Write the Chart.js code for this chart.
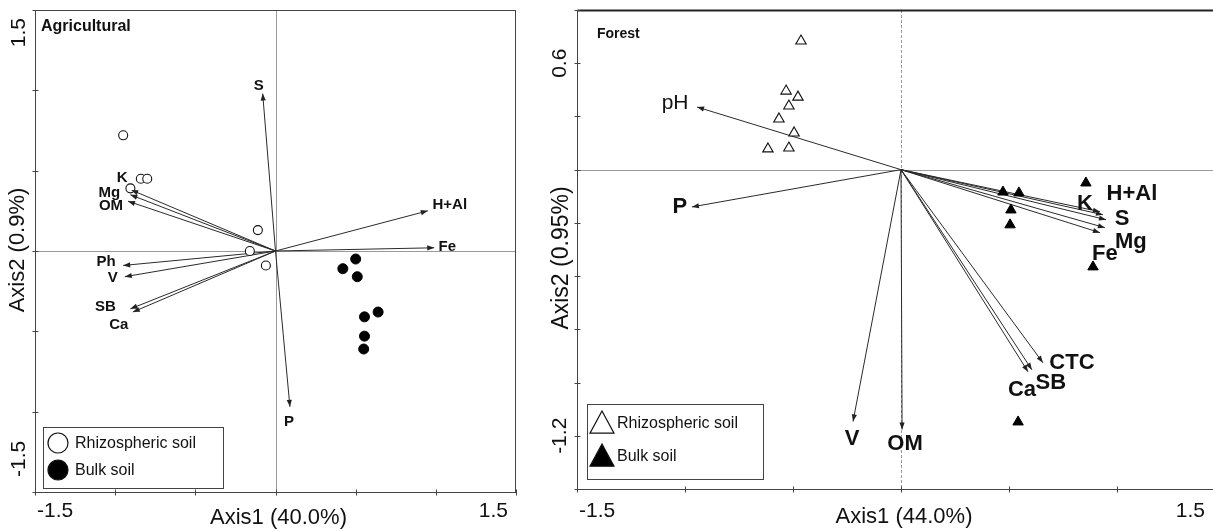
<!DOCTYPE html>
<html><head><meta charset="utf-8">
<script src="https://cdn.jsdelivr.net/npm/chart.js@4"></script>
<style>
html,body{margin:0;padding:0;background:#fff;overflow:hidden;width:1213px;height:531px;}
#wrap{position:relative;width:1213px;height:531px;overflow:hidden;background:#fff;}
canvas{position:absolute;top:0;}
#c1{left:0;} #c2{left:540px;}
</style></head><body><div id="wrap"><canvas id="c1" width="545" height="531"></canvas><canvas id="c2" width="685" height="531"></canvas></div>
<script>
// ---------- Agricultural panel data ----------
const agriVars  = ['S','K','Mg','OM','Ph','V','SB','Ca','P','H+Al','Fe'];
const agriVarX  = [-0.08,-0.90,-0.905,-0.92,-0.95,-0.94,-0.905,-0.89,0.09,0.95,0.99];
const agriVarY  = [0.98,0.38,0.35,0.31,-0.09,-0.16,-0.36,-0.38,-0.97,0.25,0.02];
const agriRhizoX = [-0.95,-0.84,-0.80,-0.905,-0.11,-0.16,-0.06];
const agriRhizoY = [0.72,0.45,0.45,0.39,0.13,0.00,-0.09];
const agriBulkX  = [0.50,0.42,0.51,0.64,0.555,0.555,0.55];
const agriBulkY  = [-0.05,-0.11,-0.16,-0.38,-0.41,-0.53,-0.61];
const agriXTicks = [-1.5,-1,-0.5,0,0.5,1,1.5];
const agriYTicks = [-1.5,-1,-0.5,0,0.5,1,1.5];
const agriXTickLabels = ['-1.5','1.5'];
const agriYTickLabels = ['1.5','-1.5'];
const agriXTitle = 'Axis1 (40.0%)';
const agriYTitle = 'Axis2 (0.9%)';
const agriPanel = 'Agricultural';
const legendNames = ['Rhizospheric soil','Bulk soil'];

// ---------- Forest panel data ----------
const forVars  = ['pH','P','V','OM','K','H+Al','S','Mg','Fe','CTC','SB','Ca'];
const forVarX  = [-0.944,-0.968,-0.222,0.005,0.921,0.935,0.949,0.944,0.921,0.657,0.606,0.588];
const forVarY  = [0.353,-0.21,-1.419,-1.464,-0.237,-0.254,-0.282,-0.327,-0.355,-1.088,-1.128,-1.139];
const forRhizoX = [-0.463,-0.532,-0.477,-0.519,-0.565,-0.495,-0.616,-0.519];
const forRhizoY = [0.725,0.443,0.409,0.359,0.286,0.207,0.117,0.122];
const forBulkX  = [0.472,0.546,0.509,0.505,0.856,0.889,0.542];
const forBulkY  = [-0.126,-0.131,-0.227,-0.311,-0.075,-0.548,-1.422];
const forXTicks = [-1.5,-1,-0.5,0,0.5,1,1.5];
const forYTicks = [-1.8,-1.5,-1.2,-0.9,-0.6,-0.3,0,0.3,0.6,0.9];
const forXTickLabels = ['-1.5','1.5'];
const forYTickLabels = ['0.6','-1.2'];
const forXTitle = 'Axis1 (44.0%)';
const forYTitle = 'Axis2 (0.95%)';
const forPanel = 'Forest';

// ---------- styles (positions / offsets, not data) ----------
const FONT = '"Liberation Sans", Arial, sans-serif';
const agriStyle = {
  pad:{left:35,right:29,top:10,bottom:39},
  xRange:[-1.5,1.5], yRange:[-1.5,1.5],
  shape:'circle', r1:4.5, r2:5,
  varFont:'bold 15px '+FONT,
  varOffset:{'S':[-4,-8],'K':[-9,-12],'Mg':[-21,-2],'OM':[-17,5],'Ph':[-17,-4],'V':[-12,1],
             'SB':[-25,-2],'Ca':[-14,13],'P':[-1,15],'H+Al':[22,-6],'Fe':[13,-1]},
  xLabelAt:[-1.5,1.5], xLabelInset:[2,-8], xLabelY:511,
  yLabelAt:[1.5,-1.5], yLabelPos:[18,477], yLabelX:19,
  titleFont:'22px '+FONT, tickFont:'21px '+FONT,
  xTitleY:518, yTitleX:18, yTitleY:250,
  panelFont:'bold 16px '+FONT, panelPos:[41,27],
  box:true, topBorder:1, vDash:[],
  legend:{x:43,y:427,w:180,h:61, sym:[58,443,470], tx:75, r:10, font:'16px '+FONT}
};
const forStyle = {
  pad:{left:37,right:0,top:10,bottom:42},
  xRange:[-1.5,1.5], yRange:[-1.8,0.9],
  shape:'triangle', r1:6, r2:6,
  varFont:'bold 22px '+FONT,
  varOffset:{'pH':[-22,-4],'P':[-12,0],'V':[-1,18],'OM':[3,15],'K':[-15,-8],'H+Al':[29,-21],
             'S':[16,-1],'Mg':[26,14],'Fe':[5,21],'CTC':[29,0],'SB':[19,13],'Ca':[-6,18]},
  varFontOverride:{'pH':'21px '+FONT},
  xLabelAt:[-1.5,1.5], xLabelInset:[2,-20], xLabelY:511,
  yLabelAt:[0.6,-1.5], yLabelPos:null, yLabelX:20,
  titleFont:'22px '+FONT, tickFont:'21px '+FONT,
  xTitleY:517, yTitleX:22, yTitleY:258, yTitleFont:'23px '+FONT,
  panelFont:'bold 14px '+FONT, panelPos:[57,34],
  box:false, topBorder:2, vDash:[3,2],
  legend:{x:47,y:404,w:176,h:75, sym:[62,423,456], tx:77, r:12, font:'16px '+FONT}
};

function drawSymbol(ctx, shape, filled, x, y, r){
  ctx.save();
  ctx.beginPath();
  if(shape==='circle'){ ctx.arc(x,y,r,0,Math.PI*2); }
  else { ctx.moveTo(x, y-r); ctx.lineTo(x+r*1.0, y+r*0.85); ctx.lineTo(x-r*1.0, y+r*0.85); ctx.closePath(); }
  ctx.fillStyle = filled ? '#000' : '#fff';
  ctx.fill();
  ctx.lineWidth = 1.2; ctx.strokeStyle = '#111'; ctx.stroke();
  ctx.restore();
}

function makeDecor(st, vars, xTicks, yTicks, xTickLabels, yTickLabels, xTitle, yTitle, panel){
  return {
    id:'decor',
    beforeDatasetsDraw(chart){
      const {ctx, chartArea:a, scales:{x,y}} = chart;
      ctx.save();
      ctx.strokeStyle = '#9a9a9a'; ctx.lineWidth = 1;
      const y0 = Math.round(y.getPixelForValue(0))+0.5, x0 = Math.round(x.getPixelForValue(0))+0.5;
      ctx.beginPath(); ctx.moveTo(a.left,y0); ctx.lineTo(a.right,y0); ctx.stroke();
      ctx.setLineDash(st.vDash);
      ctx.beginPath(); ctx.moveTo(x0,a.top); ctx.lineTo(x0,a.bottom); ctx.stroke();
      ctx.restore();
    },
    afterDatasetsDraw(chart){
      const {ctx, chartArea:a, scales:{x,y}} = chart;
      ctx.save();
      // arrowheads and variable labels
      const ox = x.getPixelForValue(0), oy = y.getPixelForValue(0);
      chart.data.datasets.forEach(ds=>{
        if(!ds.isArrow) return;
        const p = ds.data[1];
        const tx = x.getPixelForValue(p.x), ty = y.getPixelForValue(p.y);
        const ang = Math.atan2(ty-oy, tx-ox);
        const L = 7, W = 2.6;
        ctx.fillStyle = '#222';
        ctx.beginPath();
        ctx.moveTo(tx,ty);
        ctx.lineTo(tx - L*Math.cos(ang) + W*Math.sin(ang), ty - L*Math.sin(ang) - W*Math.cos(ang));
        ctx.lineTo(tx - L*Math.cos(ang) - W*Math.sin(ang), ty - L*Math.sin(ang) + W*Math.cos(ang));
        ctx.closePath(); ctx.fill();
        const off = st.varOffset[ds.label] || [0,0];
        ctx.font = (st.varFontOverride && st.varFontOverride[ds.label]) || st.varFont;
        ctx.fillStyle = '#111'; ctx.textAlign='center'; ctx.textBaseline='middle';
        ctx.fillText(ds.label, tx+off[0], ty+off[1]);
      });
      // frame
      ctx.strokeStyle = '#444'; ctx.lineWidth = 1;
      const L = Math.round(a.left)+0.5, B = Math.round(a.bottom)+0.5, T = Math.round(a.top)+0.5, R = Math.round(a.right)-0.5;
      ctx.beginPath(); ctx.moveTo(L,T); ctx.lineTo(L,B); ctx.lineTo(a.right,B); ctx.stroke();
      if(st.box){ ctx.beginPath(); ctx.moveTo(R,B); ctx.lineTo(R,T); ctx.stroke(); }
      ctx.lineWidth = st.topBorder; ctx.strokeStyle = st.topBorder>1 ? '#222' : '#444';
      ctx.beginPath(); ctx.moveTo(L,T); ctx.lineTo(a.right,T); ctx.stroke();
      // tick marks
      ctx.lineWidth = 1; ctx.strokeStyle = '#444';
      xTicks.forEach(v=>{ const px = Math.round(x.getPixelForValue(v))+0.5; ctx.beginPath(); ctx.moveTo(px,B-3); ctx.lineTo(px,B+3); ctx.stroke(); });
      yTicks.forEach(v=>{ const py = Math.round(y.getPixelForValue(v))+0.5; ctx.beginPath(); ctx.moveTo(L-3,py); ctx.lineTo(L+3,py); ctx.stroke(); });
      // tick labels
      ctx.fillStyle = '#111'; ctx.font = st.tickFont; ctx.textBaseline = 'middle';
      xTickLabels.forEach((t,i)=>{
        const px = x.getPixelForValue(st.xLabelAt[i]) + st.xLabelInset[i];
        ctx.textAlign = i===0 ? 'left' : 'right';
        ctx.fillText(t, px, st.xLabelY);
      });
      yTickLabels.forEach((t,i)=>{
        ctx.save();
        let py, align;
        if(st.yLabelPos){ py = st.yLabelPos[i]; align = i===0 ? 'right' : 'left'; }
        else { py = y.getPixelForValue(st.yLabelAt[i]); align = 'center'; }
        ctx.translate(st.yLabelX, py); ctx.rotate(-Math.PI/2);
        ctx.textAlign = align; ctx.fillText(t, 0, 0);
        ctx.restore();
      });
      // axis titles
      ctx.font = st.titleFont; ctx.textAlign='center';
      ctx.fillText(xTitle, x.getPixelForValue(0)+3, st.xTitleY);
      ctx.save(); ctx.font = st.yTitleFont || st.titleFont;
      ctx.translate(st.yTitleX, st.yTitleY); ctx.rotate(-Math.PI/2); ctx.fillText(yTitle,0,0); ctx.restore();
      // panel title
      ctx.font = st.panelFont; ctx.textAlign='left';
      ctx.fillText(panel, st.panelPos[0], st.panelPos[1]);
      // legend
      const lg = st.legend;
      ctx.fillStyle='#fff'; ctx.fillRect(lg.x,lg.y,lg.w,lg.h);
      ctx.strokeStyle='#444'; ctx.lineWidth=1; ctx.strokeRect(lg.x+0.5,lg.y+0.5,lg.w,lg.h);
      drawSymbol(ctx, st.shape, false, lg.sym[0], lg.sym[1], lg.r);
      drawSymbol(ctx, st.shape, true, lg.sym[0], lg.sym[2], lg.r);
      ctx.fillStyle='#111'; ctx.font = lg.font; ctx.textAlign='left'; ctx.textBaseline='middle';
      ctx.fillText(legendNames[0], lg.tx, lg.sym[1]+1);
      ctx.fillText(legendNames[1], lg.tx, lg.sym[2]+1);
      ctx.restore();
    }
  };
}

function biplot(id, st, vars, vx, vy, rx, ry, bx, by, xTicks, yTicks, xTL, yTL, xTitle, yTitle, panel){
  const datasets = vars.map((name,i)=>({
    type:'line', label:name, isArrow:true, order:2,
    data:[{x:0,y:0},{x:vx[i],y:vy[i]}],
    borderColor:'#2a2a2a', borderWidth:1, pointRadius:0, fill:false, tension:0
  }));
  datasets.push({type:'scatter', label:legendNames[0], order:1,
    data: rx.map((v,i)=>({x:v,y:ry[i]})), pointStyle:st.shape, pointRadius:st.r1,
    backgroundColor:'#fff', borderColor:'#111', borderWidth:1.1});
  datasets.push({type:'scatter', label:legendNames[1], order:1,
    data: bx.map((v,i)=>({x:v,y:by[i]})), pointStyle:st.shape, pointRadius:st.r2,
    backgroundColor:'#000', borderColor:'#000', borderWidth:1});
  return new Chart(document.getElementById(id), {
    type:'scatter',
    data:{datasets},
    options:{
      responsive:false, animation:false, events:[],
      layout:{padding:st.pad, autoPadding:false},
      plugins:{legend:{display:false}, tooltip:{enabled:false}},
      scales:{
        x:{type:'linear', min:st.xRange[0], max:st.xRange[1], display:false},
        y:{type:'linear', min:st.yRange[0], max:st.yRange[1], display:false}
      }
    },
    plugins:[makeDecor(st, vars, xTicks, yTicks, xTL, yTL, xTitle, yTitle, panel)]
  });
}

biplot('c1', agriStyle, agriVars, agriVarX, agriVarY, agriRhizoX, agriRhizoY, agriBulkX, agriBulkY,
       agriXTicks, agriYTicks, agriXTickLabels, agriYTickLabels, agriXTitle, agriYTitle, agriPanel);
biplot('c2', forStyle, forVars, forVarX, forVarY, forRhizoX, forRhizoY, forBulkX, forBulkY,
       forXTicks, forYTicks, forXTickLabels, forYTickLabels, forXTitle, forYTitle, forPanel);
</script></body></html>
